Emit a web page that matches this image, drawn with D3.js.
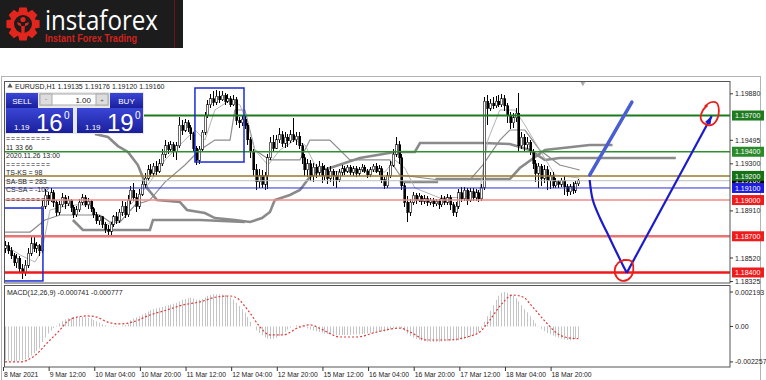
<!DOCTYPE html>
<html lang="en">
<head>
<meta charset="UTF-8">
<title>EURUSD H1</title>
<script src="https://d3js.org/d3.v7.min.js"></script>
<style>
  body { margin: 0; background: #fff; }
  svg text { font-family: "Liberation Sans", Arial, sans-serif; }
</style>
</head>
<body>
<div id="chart"></div>
<script>
// candles, in points above 1.18000 (1 point = 0.00001)
const opens = [600,620,580,540,480,520,430,400,460,560, 640,600,620,580,950,1040,1000,1060,980,900,
  960,1020,970,1000,940,880,920,980,1020,960, 990,930,880,830,860,800,760,740,800,860,
  830,900,950,880,1000,1080,1020,950,1050,1130, 1180,1250,1220,1280,1240,1300,1380,1450,1420,1460,
  1400,1450,1620,1580,1640,1600,1550,1430,1330,1420, 1560,1700,1790,1840,1810,1860,1830,1870,1820,1840,
  1790,1830,1660,1640,1670,1620,1500,1400,1250,1150, 1200,1130,1200,1350,1480,1430,1500,1540,1470,1520,
  1490,1540,1500,1530,1450,1350,1250,1300,1200,1270, 1230,1280,1200,1250,1180,1240,1200,1170,1230,1260,
  1240,1270,1230,1260,1220,1250,1270,1240,1210,1250, 1280,1240,1260,1170,1120,1200,1290,1380,1460,1350,
  1120,980,900,980,1040,1000,1030,990,1010,980, 1000,970,990,960,1010,980,1020,960,900,950,
  1060,1010,1080,1000,1070,1020,1060,1010,1100,1820, 1760,1800,1780,1820,1790,1840,1780,1700,1640,1680,
  1720,1450,1520,1460,1480,1400,1300,1220,1280,1180, 1250,1160,1200,1120,1150,1130,1160,1110,1070,1110,
  1080,1135];
const highs = [660,650,610,560,550,540,470,500,600,690, 700,650,640,990,1090,1070,1100,1080,1000,990,
  1060,1040,1030,1010,960,950,1010,1050,1040,1020, 1000,940,900,880,870,820,790,820,880,900,
  930,990,980,1040,1120,1140,1060,1090,1170,1220, 1290,1300,1310,1320,1340,1420,1500,1480,1490,1480,
  1480,1690,1660,1670,1660,1620,1560,1450,1450,1580, 1730,1830,1880,1900,1910,1900,1900,1890,1880,1860,
  1870,1850,1690,1700,1700,1640,1520,1420,1300,1260, 1250,1230,1380,1520,1540,1540,1600,1570,1560,1550,
  1580,1680,1560,1560,1470,1380,1340,1330,1310,1300, 1320,1310,1290,1270,1280,1260,1240,1260,1290,1280,
  1290,1290,1280,1280,1270,1300,1290,1260,1270,1300, 1310,1290,1280,1190,1230,1320,1420,1520,1490,1380,
  1140,1030,1010,1070,1060,1060,1040,1040,1030,1020, 1020,1010,1010,1040,1030,1050,1040,980,980,1090,
  1110,1110,1100,1100,1100,1090,1080,1130,1850,1870, 1840,1850,1860,1870,1880,1870,1800,1730,1720,1760,
  1890,1560,1550,1520,1500,1420,1330,1310,1300,1290, 1280,1230,1230,1180,1170,1180,1200,1130,1130,1150,
  1160,1176];
const lows = [560,550,510,450,440,400,350,370,440,540, 570,560,540,560,930,960,980,940,870,880,
  940,930,950,900,850,860,900,960,940,930, 900,850,800,790,770,730,690,710,780,800,
  810,870,850,860,970,990,900,930,1030,1100, 1160,1190,1200,1210,1220,1280,1350,1380,1400,1360,
  1330,1430,1540,1560,1560,1500,1400,1290,1300,1400, 1540,1680,1760,1780,1790,1800,1820,1790,1800,1770,
  1780,1620,1600,1610,1590,1460,1350,1200,1080,1100, 1100,1080,1090,1330,1400,1420,1470,1440,1430,1440,
  1470,1480,1460,1420,1300,1200,1190,1160,1150,1180, 1200,1140,1170,1130,1150,1120,1100,1150,1200,1210,
  1220,1210,1200,1190,1200,1230,1220,1180,1190,1230, 1220,1210,1140,1090,1100,1180,1270,1360,1300,1080,
  940,820,870,960,970,980,960,970,950,960, 940,950,930,940,960,960,920,870,860,930,
  980,990,960,980,990,990,980,990,1080,1620, 1740,1750,1760,1770,1770,1740,1640,1590,1600,1650,
  1410,1420,1400,1420,1370,1260,1150,1100,1120,1140, 1080,1090,1100,1100,1100,1110,1040,1030,1040,1050,
  1060,1120];
const closes = [620,580,540,480,520,430,400,460,560,640, 600,620,580,950,1040,1000,1060,980,900,960,
  1020,970,1000,940,880,920,980,1020,960,990, 930,880,830,860,800,760,740,800,860,830,
  900,950,880,1000,1080,1020,950,1050,1130,1180, 1250,1220,1280,1240,1300,1380,1450,1420,1460,1400,
  1450,1620,1580,1640,1600,1550,1430,1330,1420,1560, 1700,1790,1840,1810,1860,1830,1870,1820,1840,1790,
  1830,1660,1640,1670,1620,1500,1400,1250,1150,1200, 1130,1200,1350,1480,1430,1500,1540,1470,1520,1490,
  1540,1500,1530,1450,1350,1250,1300,1200,1270,1230, 1280,1200,1250,1180,1240,1200,1170,1230,1260,1240,
  1270,1230,1260,1220,1250,1270,1240,1210,1250,1280, 1240,1260,1170,1120,1200,1290,1380,1460,1350,1120,
  980,900,980,1040,1000,1030,990,1010,980,1000, 970,990,960,1010,980,1020,960,900,950,1060,
  1010,1080,1000,1070,1020,1060,1010,1100,1820,1760, 1800,1780,1820,1790,1840,1780,1700,1640,1680,1720,
  1450,1520,1460,1480,1400,1300,1220,1280,1180,1250, 1160,1200,1120,1150,1130,1160,1110,1070,1110,1080,
  1135,1160];

// ichimoku lines as [bar, points]; null breaks a line
const tenkan = [[0,628],[5.3,545],[10.5,487],[13,586],[15.8,918],[22.8,959],[29.8,959],[35,793],[38.6,818],
  [42.1,918],[47.3,1042],[50.8,1149],[56.1,1332],[61.3,1456],[66.6,1580],[70.1,1497],[73.6,1746],[78.9,1828],
  [82.4,1787],[85.2,1621],[87.6,1414],[92.2,1290],[96.4,1414],[101.6,1497],[105.2,1456],[108.7,1290],[114,1232],
  [124.4,1249],[133.2,1232],[136.7,1332],[140.2,1265],[143.7,1100],[152.5,1017],[161.2,1025],[166.5,1083],
  [169.3,1497],[173.5,1746],[178.8,1746],[182.3,1621],[187.5,1414],[192.8,1207],[201.5,1182]];
const kijun = [[0,735],[8.8,735],[14,835],[19.3,876],[33.3,876],[36.8,818],[40.3,818],[45.6,959],[50.8,1000],
  [56.1,1149],[63.1,1290],[68.3,1414],[73.6,1497],[78.9,1497],[80.6,1746],[84.1,1746],[87.6,1414],[92.9,1332],
  [103.4,1332],[106.9,1497],[113.9,1497],[120.9,1332],[134.9,1332],[138.4,1207],[152.5,1166],[163,1166],
  [167.5,1290],[173.5,1497],[177,1580],[182.3,1580],[187.5,1414],[194.5,1290],[201.5,1249]];
const spanA = [[31.5,1547],[36.1,1522],[39.6,1447],[43.1,1398],[46.6,1290],[49.8,1100],[53.3,1000],[61.3,984],
  [63.8,918],[70.1,893],[73.6,851],[80.6,835],[85.9,818],[90.1,851],[92.9,901],[94.6,1000],[99.9,1042],
  [103.4,1083],[106.9,1191],[109.7,1232],[113.9,1265],[124.4,1348],[136.7,1398],[143.7,1398],[145.5,1472],
  [167.5,1472],[177,1464],[184,1414],[189.3,1332],[194.5,1348],[235.2,1348]];
const spanB = [[23.8,835],[27.3,752],[50.8,752],[51.9,835],[68.3,835],[84.1,818], null,
  [138.4,1149],[151.4,1149],[151.4,1174],[177,1174],[180.5,1265],[189.3,1414],[205,1456],[213,1456]];

const levels = [1.19700, 1.19400, 1.19200, 1.19160, 1.19100, 1.19000, 1.18700, 1.18400];
const priceTicks = [1.19880, 1.19495, 1.19300, 1.18910, 1.18520, 1.18325];

// MACD main (histogram), in 1e-6
const macd = [-2150,-2180,-2200,-2220,-2200,-2180,-2150,-2100,-2000,-1850, -1700,-1550,-1400,-1000,-700,-450,-250,-100,50,200,
  350,450,520,560,580,600,610,600,580,550, 500,420,330,250,150,80,20,-20,-40,-30,
  0,60,100,150,400,500,580,650,750,850, 950,1050,1100,1150,1200,1250,1300,1350,1400,1450,
  1500,1600,1700,1750,1800,1820,1780,1700,1700,1750, 1850,1950,2000,2050,2050,2050,2030,2000,1950,1850,
  1700,1500,1300,1100,880,600,300,0,-250,-420, -550,-700,-780,-800,-780,-720,-620,-500,-350,-200,
  -80,30,80,60,20,-50,-120,-200,-250,-300, -350,-400,-450,-480,-500,-520,-540,-550,-550,-550,
  -540,-530,-520,-510,-500,-480,-460,-440,-420,-400, -380,-350,-330,-330,-280,-200,-100,-20,-30,-120,
  -280,-450,-600,-700,-780,-850,-900,-940,-960,-980, -990,-990,-980,-960,-940,-920,-900,-900,-910,-880,
  -840,-800,-740,-650,-550,-450,-350,-150,300,650, 1000,1350,1700,1950,2150,2200,2150,2050,1950,1800,
  1600,1350,1100,900,650,400,200,20,-150,-300, -420,-500,-580,-650,-720,-770,-820,-860,-880,-850,
  -800,-741];
const signalBars = [0,5.3,9.8,15.8,19.3,21.7,25.2,28.7,32.2,35.8,40.3,44.9,50.8,56.8,62.4,68.3,74.3,78.9,81.3,85.9,
  89.4,92.9,97.4,103.4,106.9,111.5,117.4,123.4,130.4,138.4,142,147.9,154.9,161.9,166.5,170,174.4,178,181.6,185,
  189.9,193.4,196.9,201];
const signalVals = [-2260,-2260,-1940,-860,-220,290,600,670,600,290,160,290,730,1050,1370,1560,1880,1940,1810,860,
  -30,-540,-540,-30,100,-220,-670,-670,-350,-100,-350,-860,-860,-670,-350,410,1490,2000,1880,1240,
  220,-410,-700,-777];
const macdTicks = [0.002193, 0, -0.002257];
const macdTickText = ["0.002193", "0.00", "-0.002257"];

const timeLabels = ["8 Mar 2021","9 Mar 12:00","10 Mar 04:00","10 Mar 20:00","11 Mar 12:00","12 Mar 04:00",
  "12 Mar 20:00","15 Mar 12:00","16 Mar 04:00","16 Mar 20:00","17 Mar 12:00","18 Mar 04:00","18 Mar 20:00"];

const infoLines = ["=========","11 33 66","2020.11.26 13:00","=========","TS-KS = 98","SA-SB = 283","CS-SA = -102","========="];

// hand drawn marks: [bar, points]
const boxes = [[-0.35, 13.3, 330, 934], [66.6, 83.8, 1315, 1928]];
const penUp = [[205.0,1207],[219.8,1812]];
const penCurve = [[205.0,1166],[206.1,1000],[208.6,851],[211.0,735],[213.5,611],[215.9,495],[218.0,397]];
const penArrow = [[218.0,397],[247.8,1696]];
const loopLow = [[216.6,504],[219.5,495],[220.3,440],[219.3,360],[216.5,330],[214.5,360],[213.8,425],[215,480],[217.5,505]];
const loopHigh = [[245.3,1773],[247.5,1810],[249.5,1805],[250.3,1740],[249.6,1665],[247.5,1620],[244.8,1640],[243.9,1680],[244.6,1740],[246.3,1785]];

const W = 766, H = 380;
const svg = d3.select("#chart").append("svg").attr("width", W).attr("height", H);
const pt = v => 1.18 + v / 1e5;

const x = d3.scaleLinear().domain([-0.35, 254.2]).range([4, 730]);
const y = d3.scaleLinear().domain([1.18313, 1.19986]).range([283, 81]);
const ym = d3.scaleLinear().domain([-0.00258, 0.00264]).range([367, 285]);

svg.append("rect").attr("width", W).attr("height", H).attr("fill", "#fff");

// logo
const logo = svg.append("g");
logo.append("rect").attr("width", 183).attr("height", 48).attr("fill", "#1c1c1c");
logo.append("line").attr("x1", 174.5).attr("x2", 174.5).attr("y1", 0).attr("y2", 48)
  .attr("stroke", "#6e1414").attr("stroke-width", 1);
const gearPts = [];
d3.range(8).forEach(k => {
  const a = k * Math.PI / 4;
  gearPts.push([a - 0.22, 17], [a + 0.22, 17], [a + 0.36, 13], [a + Math.PI / 4 - 0.36, 13]);
});
logo.append("path").attr("transform", "translate(23,24)")
  .attr("d", d3.lineRadial().angle(d => d[0]).radius(d => d[1]).curve(d3.curveLinearClosed)(gearPts))
  .attr("fill", "#e3261d");
logo.append("circle").attr("cx", 23).attr("cy", 24).attr("r", 9).attr("fill", "#1c1c1c");
logo.append("circle").attr("cx", 23).attr("cy", 19.5).attr("r", 2.6).attr("fill", "#e3261d");
logo.append("path").attr("d", "M17,22 L21,23.5 L21.5,33 L24.5,33 L25,23.5 L29,22 L28,25 L25.5,26 L20.5,26 L18,25 Z")
  .attr("fill", "#e3261d");
logo.append("text").attr("x", 45).attr("y", 30).attr("font-size", 28)
  .style("font-family", "'Open Sans', sans-serif")
  .attr("fill", "#fff").attr("textLength", 113).attr("lengthAdjust", "spacingAndGlyphs").text("instaforex");
logo.append("text").attr("x", 45).attr("y", 41.5).attr("font-size", 10.5).attr("font-weight", "bold")
  .attr("fill", "#d0231c").attr("textLength", 92).attr("lengthAdjust", "spacingAndGlyphs").text("Instant Forex Trading");

// window frame
svg.append("rect").attr("x", 1.5).attr("y", 76.5).attr("width", 759).attr("height", 310)
  .attr("fill", "none").attr("stroke", "#b4b4b4");

// panes
svg.append("defs").append("clipPath").attr("id", "pclip")
  .append("rect").attr("x", 4).attr("y", 81).attr("width", 726).attr("height", 202);
const pane = svg.append("g").attr("clip-path", "url(#pclip)");

const lineGen = d3.line().defined(d => d).x(d => x(d[0])).y(d => y(pt(d[1])));

// ichimoku
pane.append("path").attr("d", lineGen(spanB)).attr("fill", "none").attr("stroke", "#8a8a8a").attr("stroke-width", 2.6);
pane.append("path").attr("d", lineGen(spanA)).attr("fill", "none").attr("stroke", "#8a8a8a").attr("stroke-width", 2.6);
pane.append("path").attr("d", lineGen(kijun)).attr("fill", "none").attr("stroke", "#8c8c8c").attr("stroke-width", 1.2);
pane.append("path").attr("d", lineGen(tenkan)).attr("fill", "none").attr("stroke", "#b4b4b4").attr("stroke-width", 1);

// candles
const idx = d3.range(closes.length);
const cg = pane.append("g").attr("shape-rendering", "crispEdges");
cg.selectAll("line").data(idx).join("line")
  .attr("x1", i => Math.round(x(i)) + 0.5).attr("x2", i => Math.round(x(i)) + 0.5)
  .attr("y1", i => y(pt(highs[i]))).attr("y2", i => y(pt(lows[i])))
  .attr("stroke", "#000");
cg.selectAll("rect").data(idx).join("rect")
  .attr("x", i => Math.round(x(i)) - 0.5).attr("width", 2)
  .attr("y", i => y(pt(Math.max(opens[i], closes[i]))))
  .attr("height", i => Math.max(1, Math.abs(y(pt(opens[i])) - y(pt(closes[i])))))
  .attr("fill", i => closes[i] >= opens[i] ? "#fff" : "#000")
  .attr("stroke", "#000").attr("stroke-width", 0.6);

// left info text
svg.append("g").selectAll("text").data(infoLines).join("text")
  .attr("x", 6).attr("y", (d, i) => [141, 149.5, 158, 166.5, 175, 183.5, 191.5, 201.5][i])
  .attr("font-size", 7).attr("fill", "#222")
  .attr("textLength", d => d[0] === "=" ? 44 : null)
  .text(d => d);

// levels
const levelStyle = [
  { c: "#1e7a1e", w: 2, box: "#1e7a1e" },
  { c: "#2f8f2f", w: 1.5, box: "#2a8a2a" },
  { c: "#9a7a2a", w: 1.5, box: "#167016" },
  { c: "#bdbdbd", w: 1, box: "#000" },
  { c: "#2a2ae0", w: 1, box: "#1d1de0" },
  { c: "#f08a8a", w: 1.5, box: "#ee1c1c" },
  { c: "#e87474", w: 2.5, box: "#ee1c1c" },
  { c: "#f01818", w: 2.5, box: "#ee1c1c" }
];
pane.selectAll(".lvl").data(levels).join("line").attr("class", "lvl")
  .attr("x1", 4).attr("x2", 730).attr("y1", d => y(d)).attr("y2", d => y(d))
  .attr("stroke", (d, i) => levelStyle[i].c).attr("stroke-width", (d, i) => levelStyle[i].w);

// hand drawn marks
pane.selectAll(".box").data(boxes).join("rect").attr("class", "box")
  .attr("x", d => x(d[0])).attr("width", d => x(d[1]) - x(d[0]))
  .attr("y", d => y(pt(d[3]))).attr("height", d => y(pt(d[2])) - y(pt(d[3])))
  .attr("fill", "none").attr("stroke", "#1c2bd6").attr("stroke-width", 1.5);
pane.append("path").attr("d", lineGen(penUp)).attr("stroke", "#4a5ed2").attr("stroke-width", 3.5)
  .attr("stroke-linecap", "round").attr("fill", "none");
const smooth = d3.line().x(d => x(d[0])).y(d => y(pt(d[1]))).curve(d3.curveCatmullRom);
pane.append("path").attr("d", smooth(penCurve)).attr("stroke", "#1a1ccc").attr("stroke-width", 2.2).attr("fill", "none");
pane.append("path").attr("d", lineGen(penArrow)).attr("stroke", "#1a1ccc").attr("stroke-width", 2.2).attr("fill", "none");
{
  const p0 = [x(penArrow[0][0]), y(pt(penArrow[0][1]))], p1 = [x(penArrow[1][0]), y(pt(penArrow[1][1]))];
  const a = Math.atan2(p1[1] - p0[1], p1[0] - p0[0]);
  const head = [p1, [p1[0] - 9 * Math.cos(a - 0.35), p1[1] - 9 * Math.sin(a - 0.35)],
    [p1[0] - 9 * Math.cos(a + 0.35), p1[1] - 9 * Math.sin(a + 0.35)]];
  pane.append("path").attr("d", d3.line()(head) + "Z").attr("fill", "#1a1ccc");
}
pane.append("path").attr("d", smooth(loopLow)).attr("stroke", "#e8201c").attr("stroke-width", 1.8).attr("fill", "none");
pane.append("path").attr("d", smooth(loopHigh)).attr("stroke", "#e8201c").attr("stroke-width", 1.8).attr("fill", "none");

// shift marker
svg.append("path").attr("d", d3.symbol(d3.symbolTriangle, 14)()).attr("fill", "#aaa")
  .attr("transform", `translate(${x(closes.length + 0.6)},83) rotate(180)`);

// pane borders
svg.append("rect").attr("x", 4.5).attr("y", 81.5).attr("width", 725.5).attr("height", 201.5)
  .attr("fill", "none").attr("stroke", "#555");
svg.append("rect").attr("x", 4.5).attr("y", 285.5).attr("width", 725.5).attr("height", 81.5)
  .attr("fill", "none").attr("stroke", "#555");

// price axis
const axG = svg.append("g");
axG.selectAll(".tk").data(priceTicks).join("line").attr("class", "tk")
  .attr("x1", 730).attr("x2", 733).attr("y1", d => y(d)).attr("y2", d => y(d)).attr("stroke", "#333");
axG.selectAll(".tt").data(priceTicks).join("text").attr("class", "tt")
  .attr("x", 735).attr("y", d => y(d) + 2.5).attr("font-size", 7).attr("fill", "#222")
  .text(d => d.toFixed(5));
const order = [3, 0, 1, 2, 4, 5, 6, 7];
const lb = axG.selectAll(".lb").data(order).join("g").attr("class", "lb")
  .attr("transform", i => `translate(732,${y(levels[i])})`);
lb.append("rect").attr("y", -5).attr("width", 32).attr("height", 10).attr("fill", i => levelStyle[i].box);
lb.append("text").attr("x", 3).attr("y", 2.6).attr("font-size", 7).attr("fill", "#fff")
  .text(i => levels[i].toFixed(5));

// MACD
const mg = svg.append("g");
mg.selectAll("line").data(idx).join("line")
  .attr("x1", i => Math.round(x(i)) + 0.5).attr("x2", i => Math.round(x(i)) + 0.5)
  .attr("y1", ym(0)).attr("y2", i => ym(macd[i] / 1e6))
  .attr("stroke", "#c4c4c4").attr("stroke-width", 1);
mg.append("path")
  .attr("d", d3.line().x((d, i) => x(signalBars[i])).y(d => ym(d / 1e6)).curve(d3.curveMonotoneX)(signalVals))
  .attr("fill", "none").attr("stroke", "#e03a3a").attr("stroke-width", 1.2).attr("stroke-dasharray", "2,2");
mg.append("text").attr("x", 7).attr("y", 294.5).attr("font-size", 7).attr("fill", "#222")
  .text("MACD(12,26,9) -0.000741 -0.000777");
mg.selectAll(".mt").data(macdTicks).join("line").attr("class", "mt")
  .attr("x1", 730).attr("x2", 733).attr("y1", d => ym(d)).attr("y2", d => ym(d)).attr("stroke", "#333");
mg.selectAll(".mtt").data(macdTicks).join("text").attr("class", "mtt")
  .attr("x", 735).attr("y", d => ym(d) + 2.5).attr("font-size", 7).attr("fill", "#222")
  .text((d, i) => macdTickText[i]);

// time axis
const tg = svg.append("g");
tg.selectAll("line").data(timeLabels).join("line")
  .attr("x1", (d, i) => x(i * 16) - 1.5).attr("x2", (d, i) => x(i * 16) - 1.5)
  .attr("y1", 367).attr("y2", 371).attr("stroke", "#333");
tg.selectAll("text").data(timeLabels).join("text")
  .attr("x", (d, i) => x(i * 16) - 1).attr("y", 377).attr("font-size", 6.8).attr("fill", "#222")
  .text(d => d);

// header
svg.append("path").attr("d", d3.symbol(d3.symbolTriangle, 12)()).attr("fill", "#555")
  .attr("transform", "translate(10,86)");
svg.append("text").attr("x", 15).attr("y", 89).attr("font-size", 7).attr("fill", "#222")
  .text("EURUSD,H1 1.19135 1.19176 1.19120 1.19160");

// trade panel
const defs = svg.select("defs");
const grad = defs.append("linearGradient").attr("id", "bl").attr("x1", 0).attr("x2", 0).attr("y1", 0).attr("y2", 1);
grad.append("stop").attr("offset", 0).attr("stop-color", "#3a46d6");
grad.append("stop").attr("offset", 1).attr("stop-color", "#1a1f9c");
const tp = svg.append("g");
tp.append("rect").attr("x", 5).attr("y", 92).attr("width", 139).attr("height", 42).attr("fill", "#e8e8e8");
tp.append("rect").attr("x", 6).attr("y", 93).attr("width", 32).attr("height", 15).attr("fill", "url(#bl)");
tp.append("rect").attr("x", 110).attr("y", 93).attr("width", 33).attr("height", 15).attr("fill", "url(#bl)");
tp.append("rect").attr("x", 40).attr("y", 94).attr("width", 68).attr("height", 11).attr("fill", "#fff").attr("stroke", "#aaa");
tp.append("rect").attr("x", 40).attr("y", 94).attr("width", 12).attr("height", 11).attr("fill", "#ddd").attr("stroke", "#aaa");
tp.append("rect").attr("x", 96).attr("y", 94).attr("width", 12).attr("height", 11).attr("fill", "#ddd").attr("stroke", "#aaa");
tp.append("text").attr("x", 46).attr("y", 101).attr("font-size", 6).attr("text-anchor", "middle").attr("fill", "#555").text("-");
tp.append("text").attr("x", 102).attr("y", 102).attr("font-size", 6).attr("text-anchor", "middle").attr("fill", "#555").text("+");
tp.append("text").attr("x", 91).attr("y", 102.5).attr("font-size", 8).attr("text-anchor", "end").attr("fill", "#222").text("1.00");
tp.append("text").attr("x", 22).attr("y", 104).attr("font-size", 8).attr("text-anchor", "middle").attr("fill", "#fff").text("SELL");
tp.append("text").attr("x", 126.5).attr("y", 104).attr("font-size", 8).attr("text-anchor", "middle").attr("fill", "#fff").text("BUY");
[[6, 67, "16"], [77, 66, "19"]].forEach(([bx, bw, big]) => {
  tp.append("rect").attr("x", bx).attr("y", 108).attr("width", bw).attr("height", 25).attr("fill", "url(#bl)");
  tp.append("text").attr("x", bx + 8).attr("y", 130).attr("font-size", 8).attr("fill", "#fff").text("1.19");
  tp.append("text").attr("x", bx + 30).attr("y", 131).attr("font-size", 24).attr("fill", "#fff").text(big);
  tp.append("text").attr("x", bx + 58).attr("y", 119).attr("font-size", 10).attr("fill", "#fff").text("0");
});
</script>
</body>
</html>
